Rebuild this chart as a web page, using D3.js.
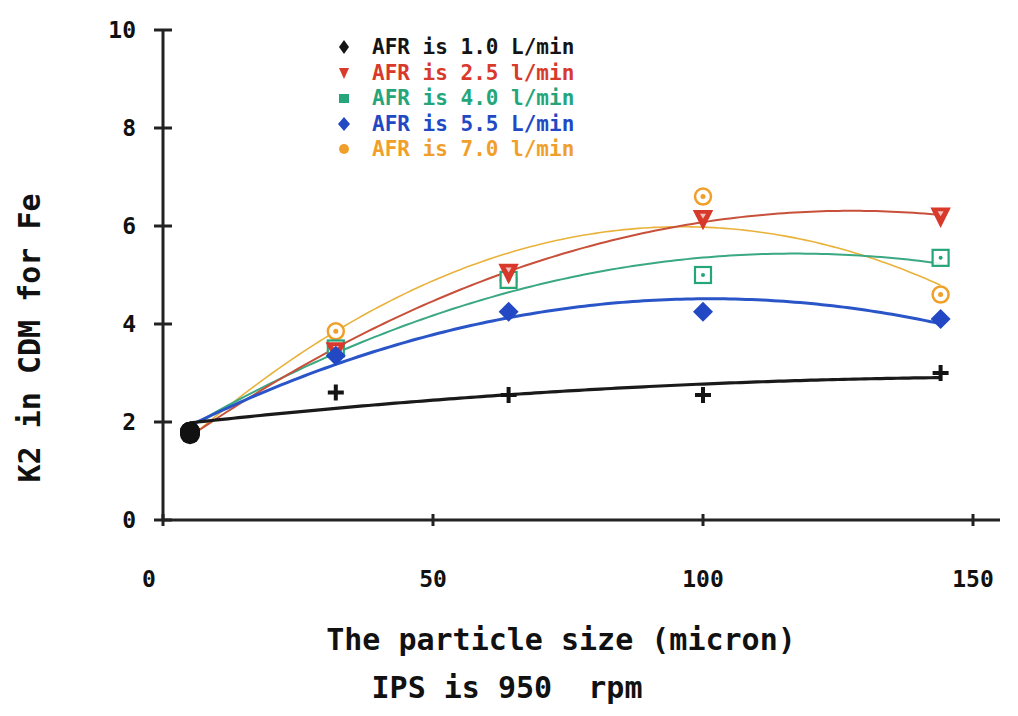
<!DOCTYPE html>
<html><head><meta charset="utf-8">
<script src="https://cdn.jsdelivr.net/npm/d3@7"></script>
<style>
html,body{margin:0;padding:0;background:#fff;}
text{font-family:"DejaVu Sans Mono",monospace;}
</style></head>
<body>
<svg id="c" width="1018" height="716"></svg>
<script>
const sizes = [5, 32, 64, 100, 144];
const afr10 = [1.8, 2.6, 2.55, 2.55, 3.0];
const afr25 = [1.75, 3.45, 5.05, 6.15, 6.2];
const afr40 = [1.8, 3.5, 4.9, 5.0, 5.35];
const afr55 = [1.8, 3.35, 4.25, 4.25, 4.1];
const afr70 = [1.8, 3.85, 4.9, 6.6, 4.6];
const seriesNames = ["AFR is 1.0 L/min","AFR is 2.5 l/min","AFR is 4.0 l/min","AFR is 5.5 L/min","AFR is 7.0 l/min"];
const xTicks = [0, 50, 100, 150];
const yTicks = [0, 2, 4, 6, 8, 10];
const xTitle = "The particle size (micron)";
const xTitle2 = "IPS is 950  rpm";
const yTitle = "K2 in CDM for Fe";

const series = [
  {name: seriesNames[0], vals: afr10, color: "#141414", line: "#1a1a1a", lw: 3.2, mark: "plus"},
  {name: seriesNames[1], vals: afr25, color: "#d8392b", line: "#c8503a", lw: 2, mark: "tri"},
  {name: seriesNames[2], vals: afr40, color: "#25a57a", line: "#3aa882", lw: 2, mark: "sq"},
  {name: seriesNames[3], vals: afr55, color: "#2348c4", line: "#2a55c8", lw: 3, mark: "dia"},
  {name: seriesNames[4], vals: afr70, color: "#f0a02a", line: "#e9b23a", lw: 1.6, mark: "circ"}
];

const svg = d3.select("#c");
const x = d3.scaleLinear().domain([0, 150]).range([163, 973]);
const y = d3.scaleLinear().domain([0, 10]).range([520, 30]);

// quadratic least squares fit
function quadFit(xs, ys) {
  let n = xs.length, S = [0,0,0,0,0], T = [0,0,0];
  for (let i = 0; i < n; i++) {
    let p = 1;
    for (let k = 0; k < 5; k++) { S[k] += p; if (k < 3) T[k] += p * ys[i]; p *= xs[i]; }
  }
  const A = [[S[0],S[1],S[2],T[0]],[S[1],S[2],S[3],T[1]],[S[2],S[3],S[4],T[2]]];
  for (let i = 0; i < 3; i++) {
    for (let j = i + 1; j < 3; j++) {
      const f = A[j][i] / A[i][i];
      for (let k = i; k < 4; k++) A[j][k] -= f * A[i][k];
    }
  }
  const c = [0,0,0];
  for (let i = 2; i >= 0; i--) {
    let s = A[i][3];
    for (let k = i + 1; k < 3; k++) s -= A[i][k] * c[k];
    c[i] = s / A[i][i];
  }
  return v => c[0] + c[1] * v + c[2] * v * v;
}

// axes
const ax = svg.append("g").attr("stroke", "#222").attr("stroke-width", 3).attr("fill", "none");
ax.append("line").attr("x1", x(0)).attr("x2", 1000).attr("y1", y(0)).attr("y2", y(0));
ax.append("line").attr("x1", x(0)).attr("x2", x(0)).attr("y1", y(0)).attr("y2", y(10));
yTicks.forEach(t => ax.append("line").attr("x1", x(0) - 9).attr("x2", x(0) + 9).attr("y1", y(t)).attr("y2", y(t)));
xTicks.forEach(t => ax.append("line").attr("x1", x(t)).attr("x2", x(t)).attr("y1", y(0) - 6).attr("y2", y(0) + 6));

svg.append("g").selectAll("text").data(yTicks).join("text")
  .attr("x", 136).attr("y", d => y(d) + 8).attr("text-anchor", "end")
  .attr("font-size", 23).attr("font-weight", "bold").attr("fill", "#111").text(d => d);
svg.append("g").selectAll("text").data(xTicks).join("text")
  .attr("x", d => d === 0 ? x(d) - 14 : x(d)).attr("y", 587).attr("text-anchor", "middle")
  .attr("font-size", 23).attr("font-weight", "bold").attr("fill", "#111").text(d => d);

// titles
svg.append("text").attr("x", 561).attr("y", 650).attr("text-anchor", "middle")
  .attr("font-size", 30).attr("fill", "#111").attr("font-weight", "bold").text(xTitle);
svg.append("text").attr("x", 507).attr("y", 698).attr("text-anchor", "middle")
  .attr("font-size", 30).attr("fill", "#111").attr("font-weight", "bold").attr("xml:space", "preserve").text(xTitle2);
svg.append("text").attr("transform", "translate(40,338) rotate(-90)").attr("text-anchor", "middle")
  .attr("font-size", 30).attr("fill", "#111").attr("font-weight", "bold").text(yTitle);

// fitted curves
const lineGen = d3.line().x(d => x(d[0])).y(d => y(d[1])).curve(d3.curveLinear);
const order = [4, 2, 1, 3, 0];
order.forEach(i => {
  const s = series[i];
  const f = quadFit(sizes, s.vals);
  const xs = d3.range(sizes[0], sizes[sizes.length - 1] + 0.5, 1);
  svg.append("path").attr("d", lineGen(xs.map(v => [v, f(v)])))
    .attr("fill", "none").attr("stroke", s.line).attr("stroke-width", s.lw);
});

function drawMark(g, type, color, cx, cy) {
  if (type === "plus") {
    g.append("path").attr("d", `M${cx-8},${cy}H${cx+8}M${cx},${cy-8}V${cy+8}`)
      .attr("stroke", color).attr("stroke-width", 4).attr("fill", "none");
  } else if (type === "tri") {
    g.append("path").attr("d", `M${cx-9},${cy-8}L${cx+9},${cy-8}L${cx},${cy+10}Z`)
      .attr("fill", color).attr("stroke", color).attr("stroke-width", 1.5);
    g.append("path").attr("d", `M${cx-3},${cy-5}L${cx+3},${cy-5}L${cx},${cy}Z`).attr("fill", "#fff").attr("opacity", 0.7);
  } else if (type === "sq") {
    g.append("rect").attr("x", cx-8).attr("y", cy-8).attr("width", 16).attr("height", 16)
      .attr("fill", "#fff").attr("fill-opacity", 0.9).attr("stroke", color).attr("stroke-width", 2.2);
    g.append("circle").attr("cx", cx).attr("cy", cy).attr("r", 2).attr("fill", color);
  } else if (type === "dia") {
    g.append("path").attr("d", `M${cx},${cy-10}L${cx+10},${cy}L${cx},${cy+10}L${cx-10},${cy}Z`).attr("fill", color);
  } else if (type === "circ") {
    g.append("circle").attr("cx", cx).attr("cy", cy).attr("r", 8).attr("fill", "#fff").attr("stroke", color).attr("stroke-width", 2.5);
    g.append("circle").attr("cx", cx).attr("cy", cy).attr("r", 2.5).attr("fill", color);
  }
}

// markers (first point of every series is drawn as an overlapping black blob)
const mg = svg.append("g");
[4, 2, 1, 3, 0].forEach(i => {
  const s = series[i];
  s.vals.forEach((v, j) => {
    if (j === 0) return;
    drawMark(mg, s.mark, s.color, x(sizes[j]), y(v));
  });
});
series.forEach(s => {
  mg.append("circle").attr("cx", x(sizes[0])).attr("cy", y(s.vals[0])).attr("r", 10).attr("fill", "#111");
});

// legend
const legY = [54, 80, 105, 131, 156];
const lg = svg.append("g");
series.forEach((s, i) => {
  const cx = 344, cy = legY[i] - 7;
  if (s.mark === "plus") {
    lg.append("path").attr("d", `M${cx},${cy-7}L${cx+5},${cy}L${cx},${cy+7}L${cx-5},${cy}Z`).attr("fill", s.color);
  } else if (s.mark === "tri") {
    lg.append("path").attr("d", `M${cx-5},${cy-5}L${cx+5},${cy-5}L${cx},${cy+6}Z`).attr("fill", s.color);
  } else if (s.mark === "sq") {
    lg.append("rect").attr("x", cx-5).attr("y", cy-4).attr("width", 10).attr("height", 9).attr("fill", s.color);
  } else if (s.mark === "dia") {
    lg.append("path").attr("d", `M${cx},${cy-7}L${cx+6},${cy}L${cx},${cy+7}L${cx-6},${cy}Z`).attr("fill", s.color);
  } else {
    lg.append("circle").attr("cx", cx).attr("cy", cy).attr("r", 5).attr("fill", s.color);
  }
  lg.append("text").attr("x", 372).attr("y", legY[i]).attr("font-size", 21).attr("font-weight", "bold")
    .attr("fill", s.color).text(s.name);
});
</script>
</body></html>
